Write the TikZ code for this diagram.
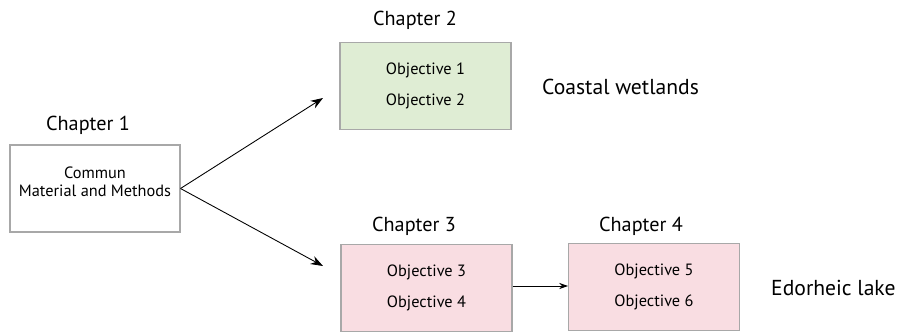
\documentclass[tikz,border=0pt]{standalone}
\usepackage{fontspec}
\setmainfont{PT Sans}
\usepackage{tikz}
\usetikzlibrary{arrows.meta}

\definecolor{boxgrey}{HTML}{A8A8A8}
\definecolor{wetgreen}{HTML}{DFEDD4}
\definecolor{lakepink}{HTML}{F9DDE2}

\tikzset{
  chapbox/.style={draw=boxgrey, line width=0.6pt, minimum width=3.42cm, minimum height=1.74cm, inner sep=0pt, align=center, font=\fontsize{9.3}{17.6}\selectfont},
  chaplabel/.style={font=\fontsize{11.5}{13}\selectfont},
  sitelabel/.style={font=\fontsize{12.3}{14}\selectfont, anchor=west},
  link/.style={-{Stealth[length=7pt,width=5pt]}, line width=0.5pt}
}

\begin{document}
\begin{tikzpicture}[x=0.02cm, y=-0.02cm]

\useasboundingbox (0,0) rectangle (903,332);

\node [chapbox, fill=white, minimum width=3.4cm] (c1) at (95,188.5) {};
\node [font=\fontsize{9.3}{10.3}\selectfont, align=center] (c1txt) at (95,182) {Commun\\Material and Methods};
\node [chaplabel] (l1) at (88,125) {Chapter 1};

\node [chapbox, fill=wetgreen] (c2) at (425.5,86) {Objective 1\\Objective 2};
\node [chaplabel] (l2) at (415,20) {Chapter 2};

\node [chapbox, fill=lakepink] (c3) at (426.5,288) {Objective 3\\Objective 4};
\node [chaplabel] (l3) at (414,226) {Chapter 3};

\node [chapbox, fill=lakepink] (c4) at (654,287) {Objective 5\\Objective 6};
\node [chaplabel] (l4) at (641,226) {Chapter 4};

\node [sitelabel] (wet) at (536,87) {Coastal wetlands};
\node [sitelabel] (lake) at (765,288) {Edorheic lake};

%arrow ends
\coordinate (e2) at (323,98);
\coordinate (e3) at (323,266);

\draw [link] (c1.east) -- (e2);
\draw [link] (c1.east) -- (e3);
\draw [link, -{Stealth[length=5pt,width=3.5pt]}, line width=0.4pt] (c3.east |- 0,286) -- (c4.west |- 0,286);

\end{tikzpicture}
\end{document}
